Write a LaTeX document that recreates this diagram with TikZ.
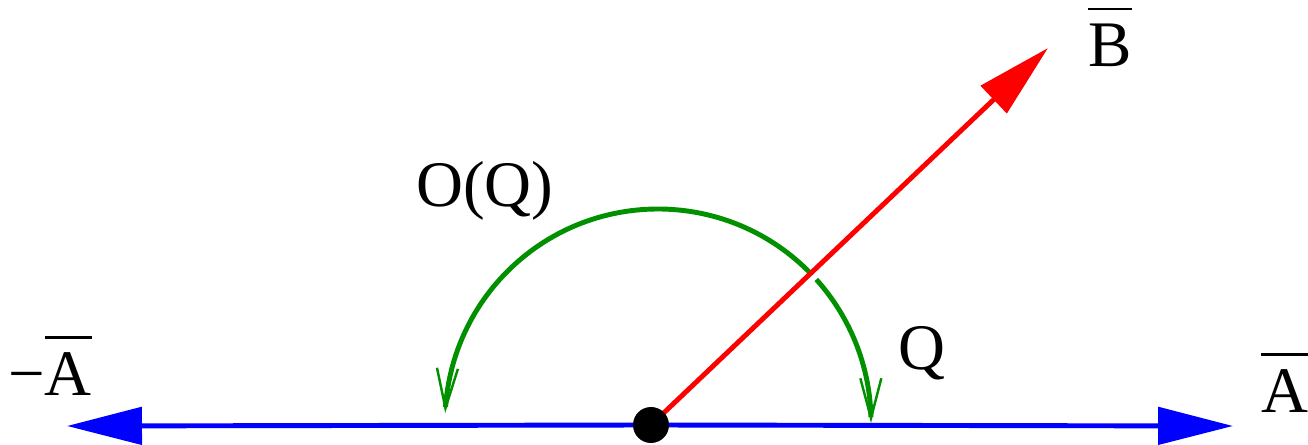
\documentclass[tikz,border=0pt]{standalone}
\usepackage{fontspec}
\setmainfont{LiberationSerif}[Extension=.ttf,UprightFont=*-Regular]
\usetikzlibrary{arrows.meta,bending}
\definecolor{figgreen}{RGB}{0,144,0}
\newcommand\ovl[1]{\vbox{\hrule height 1.6pt\kern 8pt\hbox{#1}}}

\begin{document}
\begin{tikzpicture}[x=0.02cm,y=0.02cm,
lbl/.style={inner sep=0pt,anchor=base,font=\rmfamily\fontsize{37}{44}\selectfont},
vec/.style={line width=2.8pt,-{Triangle[length=1.5cm,width=0.74cm]}},
ang/.style={line width=2.8pt,figgreen,-{Straight Barb[length=0.8cm,width=0.42cm,line width=1.4pt]}}]
\useasboundingbox (0,0) rectangle (1308,445);
\coordinate (O) at (651,20);
\coordinate (C) at (658,23);
\coordinate (Aneg) at (67,19);
\coordinate (Apos) at (1233,19);
\coordinate (Btip) at (1048,397);
% the line -A ... A
\draw[vec,blue] (O) -- (Aneg);
\draw[vec,blue] (O) -- (Apos);
% angles
\draw[ang] ([shift={(44:213)}]C) arc[start angle=44,end angle=177.6,radius=213];
\draw[ang] ([shift={(42:213)}]C) arc[start angle=42,end angle=-0.3,radius=213];
% vector B
\draw[vec,red] (O) -- (Btip);
\node[circle,fill=black,inner sep=0pt,minimum size=0.72cm] (dot) at (O) {};
% labels
\node[lbl] (oq) at (485,238) {O(Q)};
\node[lbl] (q) at (922,75) {Q};
\node[lbl] (b) at (1110,378) {\ovl{B}};
\node[lbl,anchor=base west] (a) at (1261,32) {\ovl{A}};
\node[lbl] (na) at (50,49) {−\ovl{A}};
\end{tikzpicture}
\end{document}
